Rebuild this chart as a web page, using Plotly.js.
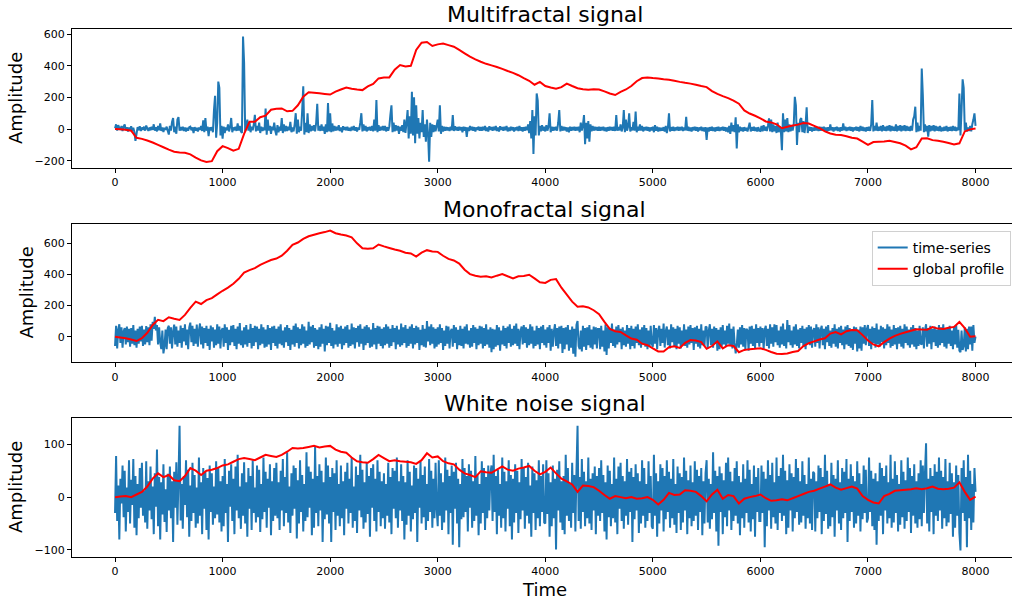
<!DOCTYPE html>
<html>
<head>
<meta charset="utf-8">
<script src="https://cdn.plot.ly/plotly-3.0.1.min.js"></script>
<style>html,body{margin:0;padding:0;background:#fff;}#chart{width:1012px;height:603px;}</style>
</head>
<body>
<div id="chart"></div>
<script>
// ---- data ----
const SIG_STEP = 10;   // time step between signal samples
const PROF_STEP = 50;  // time step between profile samples
const xTickVals = [0, 1000, 2000, 3000, 4000, 5000, 6000, 7000, 8000];
const titles = ["Multifractal signal", "Monofractal signal", "White noise signal"];
const seriesNames = ["time-series", "global profile"];

const mfSignal = [
5,30,-10,25,8,-5,20,-12,15,30, -8,12,-15,10,-5,18,-10,8,-20,-75, -30,12,-8,18,-12,10,-5,15,-10,22, 5,-12,10,-8,15,-5,30,-10,12,-15, 20,-8,35,-12,10,-18,8,-5,15,-10,
-35,20,-10,45,70,-20,15,-30,60,75, -10,12,-8,15,-12,10,-15,8,-10,12, 15,-8,10,-25,12,-10,8,-15,10,-5, 20,-12,55,-20,70,-10,15,-45,10,-8, 12,-20,120,210,-55,40,300,260,-40,20,
-60,15,-25,10,-8,30,-15,12,70,-20, 10,-8,15,-12,35,-10,20,-15,-25,585, 420,-15,20,60,-10,45,-20,15,-8,30, 90,-15,20,-10,40,-25,15,-12,10,-8, 130,-35,60,-10,20,-30,15,-8,40,-12,
-40,25,-20,15,-10,70,-25,30,-15,20, -12,15,-8,45,-20,10,-15,30,100,-30, 60,-20,15,-10,120,270,-35,40,-20,100, -25,30,-15,20,-10,25,-15,40,160,-10, 20,-12,30,-10,15,-30,30,-20,165,-15,
100,-20,35,-15,20,-10,15,-8,25,-12, 10,-20,18,-5,12,-8,15,-10,8,-12, 15,-8,20,-10,12,-15,10,-5,40,100, -15,30,-10,20,-15,12,-8,15,-10,20, -15,60,-10,183,-20,25,-10,15,-8,20,
-10,20,-15,12,-10,15,90,150,-20,40, -15,25,-10,20,-30,15,-10,25,-20,60, -25,40,120,-60,80,-30,236,-40,200,-90, 150,-30,70,-60,40,-20,120,-50,30,-80, 60,-30,-206,40,-50,30,-20,25,-15,20,
60,-15,150,-30,20,-15,15,-10,12,-8, 10,-12,15,-8,88,-12,18,-8,12,-10, 15,-8,12,-20,15,-10,12,-50,10,-12, 20,-8,15,-10,12,-15,10,-5,15,-10, 12,-10,15,-8,20,-12,10,-15,18,-5,
12,-10,15,-8,20,-12,10,-15,18,-5, 12,-10,15,-8,20,-15,10,-12,15,-8, 12,-15,10,-8,15,-12,20,-10,12,-15, 12,-10,15,-8,30,-25,50,-60,120,-158, 80,-40,225,180,-40,20,-15,25,-10,15,
-15,25,-10,15,99,-20,15,-10,12,-8, 15,-10,40,120,-15,20,-10,15,-8,12, -15,10,-20,15,-10,12,-8,15,-10,12, -8,15,-20,40,-10,25,88,-95,40,-60, 50,-80,30,-15,20,-10,15,-8,12,-10,
15,-10,12,-8,15,-12,10,-15,12,-10, 15,-8,12,-10,15,-12,88,-10,12,-8, 30,-15,10,120,-20,60,-10,15,100,-15, 12,-8,45,-10,110,-20,15,-10,30,-10, 20,-15,12,-8,15,-10,12,-15,10,-8,
15,-20,25,-10,15,-15,10,-12,8,-10, 12,-15,20,-25,10,99,-15,12,-10,15, -12,10,-8,15,-10,12,-8,15,-12,10, -8,78,-10,15,-12,10,-15,12,-8,15, -10,12,-15,10,-8,15,-12,10,-15,12,
-69,10,-15,12,-10,15,-12,10,-15,12, -10,15,-12,10,-8,15,-10,12,-15,10, -20,20,-30,40,-15,25,-20,74,-122,30, -20,15,-12,10,-15,12,-10,8,-15,12, 40,-15,12,-10,15,-12,10,-15,12,-10,
-12,20,-15,25,-10,15,-12,20,67,-15, 60,-20,30,-15,20,-25,40,-20,15,-10, -133,99,-20,60,-15,70,-20,30,-15,20, -10,30,204,150,-100,40,-20,60,70,-20, 50,-25,30,137,-25,15,-10,12,-15,10,
-10,12,-8,10,-12,15,-10,12,-8,15, -12,10,-15,12,-10,30,-8,12,-15,10, -8,15,-12,10,-15,12,-10,36,-8,15, -12,10,-8,15,-10,12,-15,10,-8,15, -10,12,-15,20,-10,15,-12,10,-15,12,
-10,15,-12,30,183,-15,20,-10,40,-12, 15,-10,20,-15,25,-10,15,-12,20,-10, 25,-15,20,-10,15,-12,30,-15,20,-10, 25,-15,20,-10,25,-12,20,-10,15,-12, 20,-10,60,80,141,-20,40,-15,20,-10,
383,215,-20,30,-15,20,-48,25,-15,20, -10,25,-15,20,-10,15,-12,20,-15,10, -12,15,-10,20,-15,12,-10,15,-12,20, -10,15,-12,10,-8,225,-40,120,314,260, -10,40,-15,10,-12,20,-15,30,60,99,
20];

const mfProfile = [
0,-2,-5,-10,-55,-62,-72,-85,-100,-115,
-130,-143,-148,-150,-160,-180,-198,-208,-203,-140,
-108,-120,-137,-125,-30,46,46,75,85,122,
128,130,112,115,150,205,232,230,226,222,
218,236,250,262,255,250,246,270,285,320,
325,326,375,404,395,400,500,545,550,525,
535,540,530,520,500,478,457,440,425,412,
402,392,380,367,355,340,322,305,280,298,
272,262,255,265,287,272,258,252,248,252,
250,238,225,215,235,250,272,302,322,325,
322,320,315,312,305,298,292,287,280,272,
265,240,222,208,195,180,160,118,98,84,
68,48,42,30,5,15,22,28,38,35,
20,5,-15,-28,-36,-38,-45,-55,-60,-80,
-100,-82,-80,-78,-74,-82,-90,-105,-128,-115,
-60,-58,-70,-74,-80,-88,-98,-90,-15,-2,
4];

const monoSignal = [
-60,70,-75,45,80,-40,60,-70,35,55, -50,65,-35,50,-65,55,-45,75,-55,40, -70,50,-45,65,-30,70,-60,45,-50,68, -35,60,-55,80,-25,95,50,128,40,75, -50,60,-35,-80,40,-107,-60,45,-80,55,
70,-45,60,-75,35,78,-50,65,-65,40, -40,72,-70,55,-30,80,-55,45,-80,60, 90,-35,70,-60,50,-45,78,-65,40,85, -50,65,-75,55,-40,70,-60,50,-85,72, -30,60,-70,45,-55,80,-45,65,-75,40,
55,-65,80,-40,60,-85,45,-55,70,-35, 75,-60,50,-80,65,-45,88,-55,40,-70, 60,-50,75,-65,45,-40,82,-75,55,-60, 70,-35,65,-80,50,-55,80,-45,60,-70, 45,-65,75,-50,55,-85,65,-40,70,-60,
50,-75,65,-45,80,-55,40,-70,60,-35, 75,-60,55,-85,45,-50,70,-65,85,-40, 60,-75,50,-55,80,-45,65,-70,40,-60, 95,-50,65,-35,75,-70,55,-60,45,-80, 60,-65,80,-45,50,-95,70,-55,65,-40,
90,-60,55,-75,40,-50,80,-65,60,-45, 70,-80,50,-55,65,-40,75,-70,45,-60, 85,-50,60,-75,55,-35,70,-65,80,-45, 50,-85,65,-55,75,-40,60,-70,45,-65, 88,-50,55,-80,70,-45,65,-60,50,-75,
60,-55,80,-45,65,-70,50,-60,75,-35, 55,-80,70,-50,45,-65,85,-55,60,-40, 75,-70,50,-60,65,-45,80,-75,55,-50, 70,-40,60,-85,45,-55,75,-65,50,-70, 100,-30,65,-55,80,-45,60,-75,50,-65,
60,-50,80,-40,55,-85,40,-60,70,-45, 65,-75,35,50,-65,75,-40,60,-80,45, -55,70,-60,50,-75,65,-45,80,-50,40, -70,55,-65,75,-40,60,-80,50,-55,70, -45,65,-75,55,-60,80,-50,45,-70,60,
-100,50,-80,45,-65,75,-55,60,-90,40, -50,70,-60,55,-75,65,-40,80,-65,50, -55,70,-45,85,-60,50,-80,35,65,-50, 75,-40,60,-70,50,-55,80,-45,65,-75, 40,-60,70,-50,55,-80,65,-40,75,-55,
45,-70,60,-40,75,-90,50,-65,35,80, -60,55,-75,65,-45,70,-105,55,-80,60, -50,75,-90,45,-70,65,-110,50,-128,75, 100,-60,-80,40,-95,70,-65,55,-85,60, -55,75,-70,45,-80,65,-50,60,-75,50,
50,-80,70,-65,40,-95,80,-118,60,-75, 55,-40,85,-60,45,-70,65,-50,75,-35, 50,-80,60,-55,40,-65,75,-45,55,-80, 70,-60,50,-75,65,-40,80,-55,45,-70, 60,-50,75,-65,55,-80,40,-60,70,-45,
-65,75,-45,55,-80,40,70,-60,50,-40, 85,-70,35,65,-55,45,-75,80,-35,60, -65,50,-80,70,-45,60,-75,40,-55,80, -60,45,-70,65,-50,75,-40,55,-85,60, -45,70,-65,50,-75,80,-55,40,-60,65,
60,-75,40,80,-55,50,-70,65,-40,55, -90,45,-80,60,-65,75,-50,40,-65,70, -45,85,-60,50,-75,65,-40,-107,-55,45, -70,60,-50,75,-65,55,-80,50,40,-90, 65,-45,70,-60,50,-75,80,-40,55,-65,
65,-40,55,-80,45,70,-60,50,-75,80, -45,60,-65,80,-35,75,-55,40,-70,65, -50,85,-60,45,-75,107,-35,75,-55,40, -70,65,-50,80,-60,45,-75,55,-40,70, -65,50,-80,60,-45,75,-55,65,-70,40,
55,-65,80,-40,60,-75,45,70,-55,50, -80,65,-35,75,-60,40,-70,55,-45,80, -65,50,-75,60,-40,70,-55,45,-80,65, -50,75,-60,55,-70,40,-85,65,-45,60, -95,45,-75,65,-90,60,-45,75,-55,50,
75,-60,50,-80,65,-40,55,-70,85,-50, 45,-65,70,-35,60,-75,50,-55,80,-40, 65,-70,45,-60,75,-50,55,-80,60,-45, 70,-65,50,-75,80,-40,65,-55,45,-70, 60,-50,75,-65,55,-80,40,-60,70,-45,
-50,60,-75,40,80,-65,55,-45,70,-80, 50,-35,65,-60,45,-70,75,-55,60,-40, 80,-65,50,-75,55,-45,70,-60,40,-80, 65,-50,75,-70,45,-90,-100,40,-85,-60, 60,-95,50,-80,65,-50,65,-90,75,-40,
0];

const monoProfile = [
0,-5,-10,-18,-28,-10,25,75,108,100,
125,115,108,140,185,225,210,235,248,272,
295,315,340,372,412,428,440,462,478,493,
502,520,552,590,605,628,645,655,665,672,
682,665,656,650,638,600,568,565,568,592,
580,570,560,552,540,535,515,540,556,548,
545,520,500,490,470,430,402,392,385,388,
380,392,402,388,375,388,390,398,375,350,
345,365,370,315,270,225,192,195,188,170,
145,95,50,35,30,8,-12,-20,-45,-55,
-75,-95,-95,-68,-62,-72,-40,-22,-25,-35,
-78,-60,-30,-75,-55,-60,-100,-85,-80,-78,
-75,-85,-98,-110,-112,-108,-98,-92,-60,-42,
-30,-18,-10,20,30,15,35,43,42,10,
-25,-50,-62,-35,-12,5,18,28,38,48,
46,45,62,52,50,58,63,95,55,0,
2];

const wnSignal = [
-30,78,-45,22,-80,35,-12,60,-38,50, -65,18,-28,70,-50,33,-15,72,-58,40, -72,25,-40,55,-20,65,-35,12,-48,68, -60,30,-25,58,-42,20,-70,45,-18,90, -55,38,-80,28,-33,62,-47,15,-66,44,
-25,58,-40,30,-85,48,-20,66,-52,35, 135,-44,25,-60,40,-15,70,-38,52,-75, 22,-45,65,-30,42,-58,18,-50,75,-35, 28,-70,55,-22,48,-62,36,-80,60,-28, 45,-52,20,-40,68,-33,55,-48,30,-65,
40,-55,72,-30,25,-85,50,-18,62,-45, 35,-70,58,-25,80,-40,20,-60,45,-35, 66,-50,28,-75,55,-22,40,-62,70,-30, 18,-48,60,-38,52,-66,25,-42,75,-28, 48,-58,35,-20,62,-72,30,-45,55,-35,
65,-40,28,-62,50,-25,72,-55,38,-30, 85,-48,20,-68,45,-35,60,-22,55,-78, 32,-50,70,-28,42,-65,25,-45,85,-38, 58,-20,48,-72,35,-58,95,-30,40,-55, 62,-25,50,-85,28,-42,75,-33,60,-50,
38,-85,55,-28,45,-62,70,-35,25,-55, 60,-40,30,-72,48,-22,65,-50,35,-30, 75,-58,20,-45,58,-68,42,-25,80,-38, 52,-60,28,-48,66,-32,40,-75,55,-20, 62,-45,35,-65,70,-28,48,-55,30,-40,
45,-60,25,-35,65,-48,38,-70,55,-22, 50,-40,75,-58,30,-25,62,-45,40,-80, 28,-52,70,-35,48,-65,22,-42,60,-30, 55,-85,35,-20,68,-50,42,-38,58,-62, 25,-45,72,-28,50,-58,35,-40,65,-22,
-55,70,-35,45,-62,28,-48,75,-25,52, -70,40,-30,60,-90,48,-22,65,-50,35, -95,25,-42,72,-38,55,-28,40,-65,62, -20,50,-58,30,-45,78,-35,42,-72,25, -50,68,-30,55,-62,38,-40,60,-25,45,
60,-45,80,-28,40,-70,52,-35,25,-58, 75,-40,48,-65,30,-22,70,-55,42,-80, 35,-48,62,-30,50,-68,28,-42,72,-25, 55,-60,38,-35,65,-50,22,-75,58,-30, 45,-62,32,-40,70,-55,40,-28,62,-48,
-50,70,-32,45,-75,28,-55,60,-40,35, -99,52,-25,68,-48,30,-62,40,-70,80, -35,55,-45,25,-58,65,-30,42,-65,50, 135,-45,38,-60,72,-28,48,-55,30,-40, 75,-50,35,-62,45,-25,58,-70,40,-35,
55,-45,70,-30,42,-65,28,-80,60,-38, 50,-55,25,-40,75,-48,35,-70,58,-22, 65,-45,40,-60,30,-35,72,-52,48,-28, 55,-85,38,-42,62,-25,45,-68,30,-50, 70,-35,55,-58,25,-45,68,-30,40,-55,
-60,80,-35,45,-75,30,-50,62,-25,55, -65,40,-42,70,-28,48,-58,35,-40,72, -52,25,-68,58,-30,45,-62,38,-48,75, -25,50,-70,32,-40,60,-55,28,-45,68, -35,52,-62,40,-28,55,-72,30,-50,45,
70,-48,35,-60,25,-42,85,-30,50,-65, 40,-92,58,-28,45,-70,32,-38,65,-55, 75,-25,48,-62,30,-45,55,-35,68,-50, 40,-72,28,-40,62,-58,35,-30,70,-48, 52,-65,25,-42,60,-75,38,-28,55,-45,
-45,60,-30,48,-95,35,-55,70,-25,42, -60,65,-38,28,-50,75,-62,40,-30,55, -45,80,-35,50,-70,32,-58,62,-25,45, -65,38,-40,72,-28,55,-52,30,-48,68, -35,42,-60,25,-40,75,-50,35,-62,48,
45,-65,30,-40,60,-28,55,-70,38,-45, 80,-32,50,-60,25,-55,65,-38,42,-75, 35,-25,70,-50,28,-62,55,-40,48,-30, 72,-85,35,-45,62,-28,40,-58,30,-50, 68,-35,45,-65,25,-42,60,-30,52,-48,
-40,75,-28,50,-55,35,-62,45,-90,30, -45,65,-35,55,-70,40,-25,60,-50,28, -40,80,-58,35,-48,68,-30,42,-65,25, -52,70,-38,48,-60,32,-45,75,-28,55, -68,40,-35,62,-50,30,-58,45,-42,70,
-55,60,-30,45,102,-50,35,-65,55,-28, 40,-70,62,-35,48,-45,75,-25,50,-60, 38,-40,72,-55,30,-48,65,-32,45,-75, 28,-58,60,-35,42,-68,-101,55,-30,70, -45,38,-95,80,-40,50,-62,25,-48,55,
10];

const wnProfile = [
0,1,2,0,5,10,20,35,45,38,
42,32,30,40,55,50,42,50,52,55,
60,62,67,72,74,72,70,75,80,78,
76,80,86,93,92,93,95,97,94,96,
97,90,86,84,75,68,66,65,72,80,
74,68,70,68,67,66,63,70,83,75,
77,68,64,62,52,45,42,38,49,47,
46,52,58,52,50,54,56,59,50,43,
48,56,45,35,30,24,10,22,21,19,
12,4,-3,2,0,-2,0,-3,-2,0,
-5,-14,-5,8,4,5,13,12,10,2,
-8,5,14,-3,4,2,-12,-3,0,2,
5,-2,-7,-6,-4,-6,-2,2,6,10,
12,16,20,24,18,14,17,20,16,2,
-5,-10,-12,2,6,12,13,14,15,17,
15,17,20,16,15,16,18,28,10,-5,
1];

// ---- chart ----
const BLUE = '#1f77b4', RED = '#ff0000';
const FONT = 'DejaVu Sans, Liberation Sans, sans-serif';
function times(arr, step) { return arr.map((_, i) => i * step); }

function sig(arr, ax, legend) {
  return {x: times(arr, SIG_STEP), y: arr, xaxis: 'x' + ax, yaxis: 'y' + ax, type: 'scatter', mode: 'lines',
    name: seriesNames[0], showlegend: legend, hoverinfo: 'skip',
    line: {color: BLUE, width: 2, simplify: false}};
}
function prof(arr, ax, legend) {
  return {x: times(arr, PROF_STEP), y: arr, xaxis: 'x' + ax, yaxis: 'y' + ax, type: 'scatter', mode: 'lines',
    name: seriesNames[1], showlegend: legend, hoverinfo: 'skip',
    line: {color: RED, width: 2, simplify: false}};
}

const traces = [
  sig(mfSignal, '', false), prof(mfProfile, '', false),
  sig(monoSignal, '2', true), prof(monoProfile, '2', true),
  sig(wnSignal, '3', false), prof(wnProfile, '3', false)
];

const baseAx = {showline: true, linecolor: '#000', linewidth: 1, ticks: 'outside', ticklen: 4,
  tickcolor: '#000', tickwidth: 1, showgrid: false, zeroline: false,
  tickfont: {family: FONT, size: 11, color: '#000'}};
function xa(anchor) {
  return Object.assign({}, baseAx, {anchor: anchor, range: [-400, 8339], tickvals: xTickVals,
    tickformat: 'd', mirror: true, domain: [0, 1]});
}
function ya(anchor, dom, range, dtick) {
  return Object.assign({}, baseAx, {anchor: anchor, domain: dom, range: range, dtick: dtick, tick0: 0});
}

const H = 603, W = 940, L = 72;
const py = v => 1 - v / H;
const px = v => (v - L) / W;

function ann(text, x, y, size, angle) {
  return {text: text, xref: 'paper', yref: 'paper', x: x, y: y, xanchor: 'center', yanchor: 'middle',
    showarrow: false, textangle: angle || 0, font: {family: FONT, size: size, color: '#000'}};
}

const layout = {
  width: 1012, height: 603,
  margin: {l: L, r: 0, t: 0, b: 0},
  paper_bgcolor: '#fff', plot_bgcolor: '#fff',
  font: {family: FONT, color: '#000'},
  xaxis: xa('y'), yaxis: ya('x', [py(168), py(29)], [-246, 632], 200),
  xaxis2: xa('y2'), yaxis2: ya('x2', [py(362.3), py(223.7)], [-164.6, 726], 200),
  xaxis3: xa('y3'), yaxis3: ya('x3', [py(556.7), py(418.3)], [-112.7, 149.2], 100),
  showlegend: true,
  legend: {x: px(1010.7), xanchor: 'right', y: py(231), yanchor: 'top',
    font: {family: FONT, size: 14, color: '#000'}, bgcolor: 'rgba(255,255,255,0.8)',
    bordercolor: '#d0d0d0', borderwidth: 1, itemwidth: 30, tracegroupgap: 0},
  annotations: [
    ann(titles[0], 0.503, py(15), 22),
    ann(titles[1], 0.503, py(209), 22),
    ann(titles[2], 0.503, py(403), 22),
    ann('Time', 0.503, py(589), 18),
    ann('Amplitude', px(15.5), py(98.5), 18, -90),
    ann('Amplitude', px(25.5), py(293), 18, -90),
    ann('Amplitude', px(15.5), py(487.5), 18, -90)
  ]
};

Plotly.newPlot('chart', traces, layout, {displayModeBar: false, staticPlot: true});
</script>
</body>
</html>
